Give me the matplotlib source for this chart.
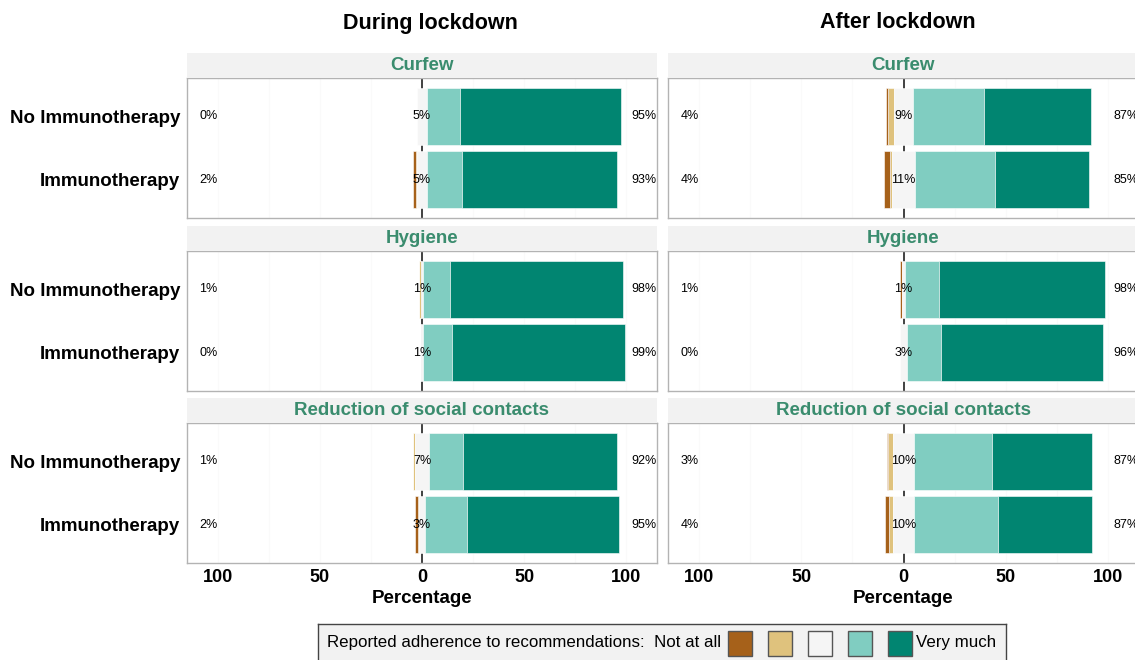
import matplotlib.pyplot as plt
from matplotlib.patches import Rectangle

plt.rcParams['font.family'] = ['Liberation Sans', 'DejaVu Sans']

# answer levels, low to high
levels = ["Not at all", "2", "3", "4", "Very much"]
level_colors = ["#A6611A", "#DFC27D", "#F5F5F5", "#80CDC1", "#018571"]

groups = ["No Immunotherapy", "Immunotherapy"]
items = ["Curfew", "Hygiene", "Reduction of social contacts"]
periods = ["During lockdown", "After lockdown"]

# percent per level, rows = groups
during_curfew = [[0, 0, 5, 16, 79], [1.6, 0.4, 5, 17, 76]]
during_hygiene = [[0, 1, 1, 13, 85], [0, 0, 1, 14, 85]]
during_contacts = [[0, 1, 7, 16.5, 75.5], [1.6, 0.4, 3, 20.5, 74.5]]

after_curfew = [[0.8, 3.2, 9, 35, 52], [2.7, 1.3, 11, 39, 46]]
after_hygiene = [[1, 0, 1, 17, 81], [0, 0.4, 3, 17, 79]]
after_contacts = [[0.6, 2.4, 10, 38, 49], [1.8, 2, 10, 41, 46]]

data = {
    "During lockdown": [during_curfew, during_hygiene, during_contacts],
    "After lockdown": [after_curfew, after_hygiene, after_contacts],
}

W, H = 1135, 660
fig = plt.figure(figsize=(W / 100, H / 100), dpi=100)

col_left = [187, 668]
col_width = [470, 471]
panel_top = [78, 251, 423]
panel_h = 140
strip_h = 25.5
strip_color = "#3A8C6E"
title_x = [430, 898]


def pct(v):
    return "%.0f%%" % v


def draw_panel(ax, rows, show_y, show_x):
    ax.axvline(0, color="#333333", lw=1.3, zorder=1)
    ypos = [2, 1]
    for r, vals in enumerate(rows):
        y = ypos[r]
        neutral = vals[2]
        # negative side
        left = -neutral / 2
        for k in [1, 0]:
            left -= vals[k]
            ax.barh(y, vals[k], left=left, height=0.9, color=level_colors[k],
                    edgecolor="white", lw=0.4, zorder=2)
        ax.barh(y, neutral, left=-neutral / 2, height=0.9, color=level_colors[2],
                edgecolor="white", lw=0.4, zorder=2)
        left = neutral / 2
        for k in [3, 4]:
            ax.barh(y, vals[k], left=left, height=0.9, color=level_colors[k],
                    edgecolor="white", lw=0.4, zorder=2)
            left += vals[k]
        low = vals[0] + vals[1]
        high = vals[3] + vals[4]
        ax.text(-100, y, pct(low), ha="right", va="center", fontsize=9, zorder=3)
        ax.text(0, y, pct(neutral), ha="center", va="center", fontsize=9, zorder=3)
        ax.text(102.4, y, pct(high), ha="left", va="center", fontsize=9, zorder=3)

    ax.set_xlim(-115, 115)
    ax.set_ylim(0.4, 2.6)
    ax.set_xticks([-100, -50, 0, 50, 100])
    ax.set_xticks([-75, -25, 25, 75], minor=True)
    ax.grid(True, which="both", axis="x", color="#FAFAFA", lw=0.8, zorder=0)
    ax.set_axisbelow(True)
    ax.tick_params(which="both", length=0)
    if show_x:
        ax.set_xticklabels(["100", "50", "0", "50", "100"], fontsize=13, fontweight="bold")
        ax.tick_params(axis="x", pad=4)
        ax.set_xlabel("Percentage", fontsize=13.5, fontweight="bold", labelpad=3)
    else:
        ax.set_xticklabels([])
    ax.set_yticks(ypos)
    if show_y:
        ax.set_yticklabels(groups, fontsize=13.5, fontweight="bold")
        ax.tick_params(axis="y", pad=5)
    else:
        ax.set_yticklabels([])
    for s in ax.spines.values():
        s.set_color("#B3B3B3")
        s.set_linewidth(1)


for c, period in enumerate(periods):
    x0 = col_left[c] / W
    w = col_width[c] / W
    if c == 1:
        w = (1139 - 668) / W
    for r, item in enumerate(items):
        top = panel_top[r]
        ax = fig.add_axes([x0, 1 - (top + panel_h) / H, w, panel_h / H])
        draw_panel(ax, data[period][r], c == 0, r == 2)

        sax = fig.add_axes([x0, 1 - top / H, w, strip_h / H])
        sax.set_facecolor("#F2F2F2")
        sax.set_xticks([])
        sax.set_yticks([])
        for s in sax.spines.values():
            s.set_visible(False)
        sax.text(0.5, 0.48, item, ha="center", va="center", fontsize=13.5,
                 fontweight="bold", color=strip_color, transform=sax.transAxes)
    fig.text(title_x[c] / W, 1 - 23 / H, period, ha="center", va="center",
             fontsize=15.5, fontweight="bold")

# legend box
lax = fig.add_axes([318 / W, 1 - 666 / H, 688 / W, 42 / H])
lax.set_xlim(318, 1006)
lax.set_ylim(666, 624)
lax.set_facecolor("#F2F2F2")
lax.set_xticks([])
lax.set_yticks([])
for s in lax.spines.values():
    s.set_color("#444444")
    s.set_linewidth(1)
lax.text(327, 643, "Reported adherence to recommendations:  " + levels[0],
         ha="left", va="center", fontsize=12.2)
for i, col in enumerate(level_colors):
    lax.add_patch(Rectangle((728 + i * 40, 630.5), 24, 25, facecolor=col,
                            edgecolor="#555555", lw=1))
lax.text(916, 643, levels[-1], ha="left", va="center", fontsize=12.2)

fig.savefig("out.png", dpi=100)
